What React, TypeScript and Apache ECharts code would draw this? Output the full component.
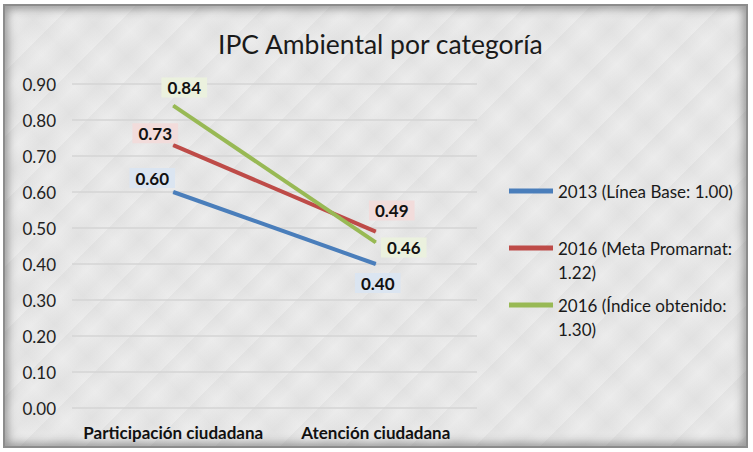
import React, { useEffect, useRef } from "react";
import * as echarts from "echarts";

const categories = ["Participación ciudadana", "Atención ciudadana"];
const seriesNames = [
  "2013 (Línea Base: 1.00)",
  "2016 (Meta Promarnat: 1.22)",
  "2016 (Índice obtenido: 1.30)",
];
const legendLabels = [
  "2013 (Línea Base: 1.00)",
  "\n2016 (Meta Promarnat:\n1.22)",
  "\n2016 (Índice obtenido:\n1.30)",
];
const base2013 = [0.6, 0.4];
const meta2016 = [0.73, 0.49];
const indice2016 = [0.84, 0.46];
const yTicks = [0, 0.9, 0.1]; // min, max, interval

const colors = ["#4a7ebb", "#be4b48", "#98b954"];
const labelBg = ["#dbe5f1", "#f2dcdb", "#ebf1de"];
// label offsets [dx, dy] per series per point
const labelOffsets = [
  [[-21, -14], [2, 19]],
  [[-18, -12], [16, -21]],
  [[11, -18], [28, 5]],
];

const FONT = "Lato, 'Open Sans', sans-serif";

export default function App() {
  const ref = useRef<HTMLDivElement>(null);
  useEffect(() => {
    if (!ref.current) return;
    const chart = echarts.init(ref.current, null, { renderer: "svg" });
    const values = [base2013, meta2016, indice2016];
    const series = values.map((vals, si) => ({
      name: seriesNames[si],
      type: "line",
      symbol: "circle",
      symbolSize: 1,
      lineStyle: { color: colors[si], width: 4 },
      itemStyle: { color: colors[si] },
      z: 3 + si,
      data: vals.map((v, i) => ({
        value: v,
        label: {
          show: true,
          position: "inside",
          offset: labelOffsets[si][i],
          formatter: (p: any) => Number(p.value).toFixed(2),
          color: "#111",
          fontWeight: "bold",
          fontSize: 17,
          fontFamily: FONT,
          backgroundColor: labelBg[si],
          padding: [2, 6, 1, 6],
        },
      })),
    }));
    const legendTops = [173, 206, 263];
    const legends = seriesNames.map((n, i) => ({
      data: [n],
      orient: "vertical",
      left: 504,
      top: legendTops[i],
      padding: 0,
      icon: "rect",
      itemWidth: 44,
      itemHeight: 5,
      selectedMode: false,
      textStyle: {
        fontSize: 17,
        lineHeight: 24,
        fontFamily: FONT,
        color: "#1a1a1a",
      },
      formatter: (name: string) => legendLabels[seriesNames.indexOf(name)],
    }));
    chart.setOption({
      animation: false,
      backgroundColor: "transparent",
      title: {
        text: "IPC Ambiental por categoría",
        left: 208,
        top: 19,
        textStyle: {
          fontSize: 26.5,
          fontWeight: "normal",
          fontFamily: FONT,
          color: "#1a1a1a",
        },
      },
      legend: legends,
      grid: { left: 67, top: 78, width: 405, height: 324, containLabel: false },
      xAxis: {
        type: "category",
        data: categories,
        boundaryGap: true,
        axisLine: { show: false },
        axisTick: { show: false },
        axisLabel: {
          interval: 0,
          margin: 16,
          fontSize: 17,
          fontWeight: "bold",
          fontFamily: FONT,
          color: "#111",
        },
      },
      yAxis: {
        type: "value",
        min: yTicks[0],
        max: yTicks[1],
        interval: yTicks[2],
        axisLine: { show: false },
        axisTick: { show: false },
        axisLabel: {
          margin: 16,
          fontSize: 17,
          fontFamily: FONT,
          color: "#222",
          formatter: (v: number) => v.toFixed(2),
        },
        splitLine: { lineStyle: { color: "#d4d4d4", width: 1.5 } },
      },
      series,
    });
    return () => chart.dispose();
  }, []);
  return (
    <div
      style={{
        position: "absolute",
        left: 3,
        top: 4,
        width: 745,
        height: 444,
        boxSizing: "border-box",
        border: "2px solid #8c8c8c",
        boxShadow: "inset 0 0 8px 3px rgba(90,90,90,0.55)",
        background:
          "repeating-linear-gradient(135deg, rgba(160,160,160,0.10) 0px, rgba(255,255,255,0) 14px, rgba(150,150,150,0.08) 30px, rgba(255,255,255,0) 46px), repeating-linear-gradient(45deg, rgba(170,170,170,0.08) 0px, rgba(255,255,255,0) 22px, rgba(160,160,160,0.06) 40px), #ececec",
      }}
    >
      <div ref={ref} style={{ width: 741, height: 440 }} />
    </div>
  );
}
